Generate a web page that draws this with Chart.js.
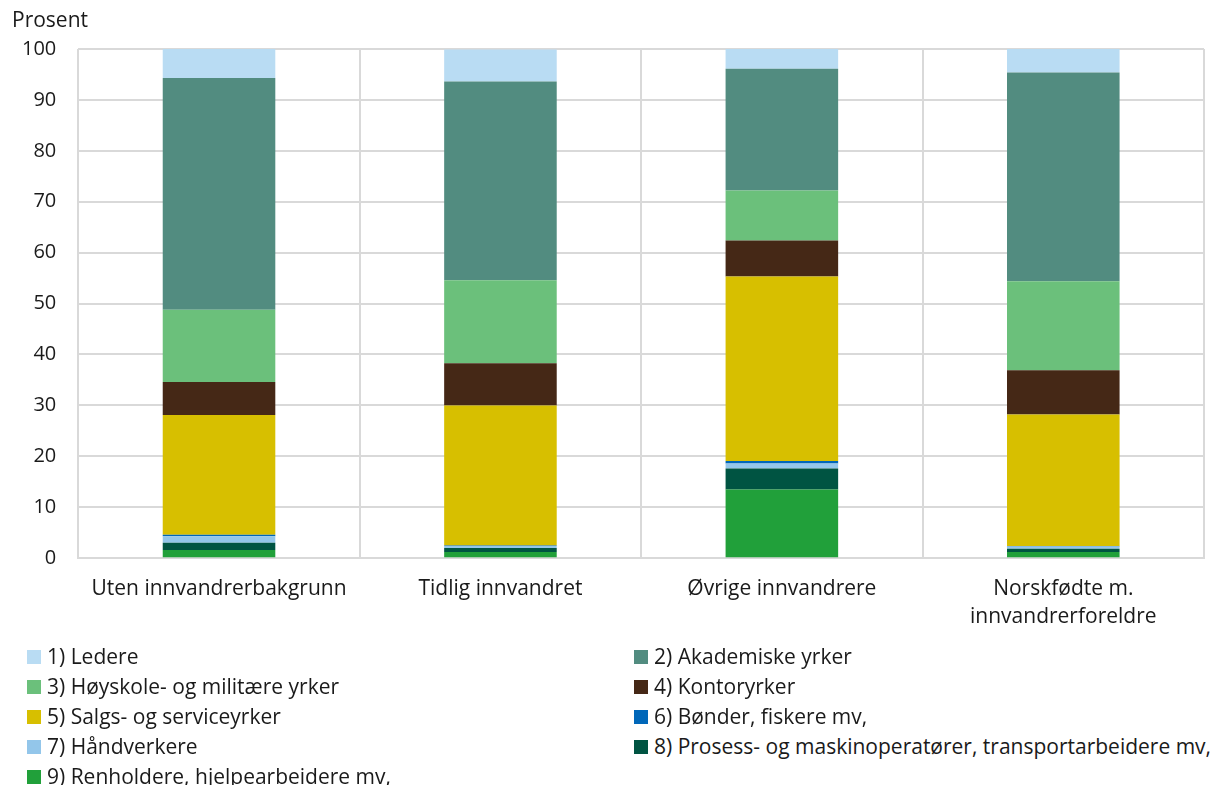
<!DOCTYPE html>
<html><head><meta charset="utf-8">
<script src="https://cdn.jsdelivr.net/npm/chart.js@4/dist/chart.umd.min.js"></script>
<style>
html,body{margin:0;padding:0;background:#fff;font-family:"Open Sans",sans-serif;}
#wrap{position:relative;width:1219px;height:785px;}
#c{position:absolute;left:0;top:0;}
#ytitle{position:absolute;left:12px;top:4px;font-size:21px;color:#1a1a1a;line-height:30px;}
#legend{position:absolute;left:0;top:641px;width:1219px;}
.li{position:absolute;font-size:21px;color:#1a1a1a;white-space:nowrap;line-height:30px;}
.sw{display:inline-block;width:14px;height:14px;margin-right:6px;vertical-align:0px;}
</style></head><body>
<div id="wrap">
<canvas id="c" width="1219" height="648"></canvas>
<div id="ytitle">Prosent</div>
<div id="legend"></div>
</div>
<script>
const categories = ["Uten innvandrerbakgrunn","Tidlig innvandret","Øvrige innvandrere",["Norskfødte m.","innvandrerforeldre"]];
const seriesNames = ["1) Ledere","2) Akademiske yrker","3) Høyskole- og militære yrker","4) Kontoryrker","5) Salgs- og serviceyrker","6) Bønder, fiskere mv,","7) Håndverkere","8) Prosess- og maskinoperatører, transportarbeidere mv,","9) Renholdere, hjelpearbeidere mv,"];
const ledere      = [5.7, 6.3, 3.9, 4.7];
const akademiske  = [45.5, 39.0, 23.9, 41.0];
const hoyskole    = [14.2, 16.3, 9.8, 17.5];
const kontor      = [6.5, 8.3, 7.1, 8.7];
const salg        = [23.5, 27.5, 36.2, 25.8];
const bonder      = [0.3, 0.1, 0.5, 0.1];
const handverk    = [1.3, 0.4, 1.0, 0.45];
const prosess     = [1.4, 0.8, 4.1, 0.65];
const renhold     = [1.6, 1.2, 13.5, 1.2];
const yTicks = [0,10,20,30,40,50,60,70,80,90,100];
const colors = ["#b9dcf3","#528c80","#6bc07b","#452816","#d7bf00","#0067b9","#93c6ea","#005442","#21a03a"];
const values = [ledere, akademiske, hoyskole, kontor, salg, bonder, handverk, prosess, renhold];

const datasets = [];
for (let i = 8; i >= 0; i--) {
  datasets.push({label: seriesNames[i], data: values[i], backgroundColor: colors[i], borderWidth: 0, barPercentage: 0.4, categoryPercentage: 1.0});
}

new Chart(document.getElementById('c'), {
  type: 'bar',
  data: {labels: categories, datasets},
  options: {
    responsive: false, animation: false,
    layout: {padding: {left: 0, right: 15, top: 49, bottom: 0}},
    plugins: {legend: {display: false}, tooltip: {enabled: false}},
    scales: {
      x: {stacked: true,
          grid: {color: '#d9d9d9', lineWidth: 2, offset: true, drawTicks: false},
          border: {color: '#d9d9d9', width: 2},
          ticks: {color: '#1a1a1a', font: {family: 'Open Sans', size: 21, lineHeight: 1.33}, padding: 17}},
      y: {stacked: true, min: 0, max: 100,
          afterBuildTicks: (ax) => { ax.ticks = yTicks.map(v => ({value: v})); },
          grid: {color: '#d9d9d9', lineWidth: 2, drawTicks: false},
          border: {display: false},
          ticks: {color: '#1a1a1a', font: {family: 'Open Sans', size: 20}, padding: 22}}
    }
  }
});

const leg = document.getElementById('legend');
seriesNames.forEach((n, i) => {
  const col = i % 2, row = Math.floor(i / 2);
  const d = document.createElement('div');
  d.className = 'li';
  d.style.left = (col === 0 ? 27 : 634) + 'px';
  d.style.top = (row * 30) + 'px';
  d.innerHTML = '<span class="sw" style="background:' + colors[i] + '"></span>' + n;
  leg.appendChild(d);
});
</script>
</body></html>
